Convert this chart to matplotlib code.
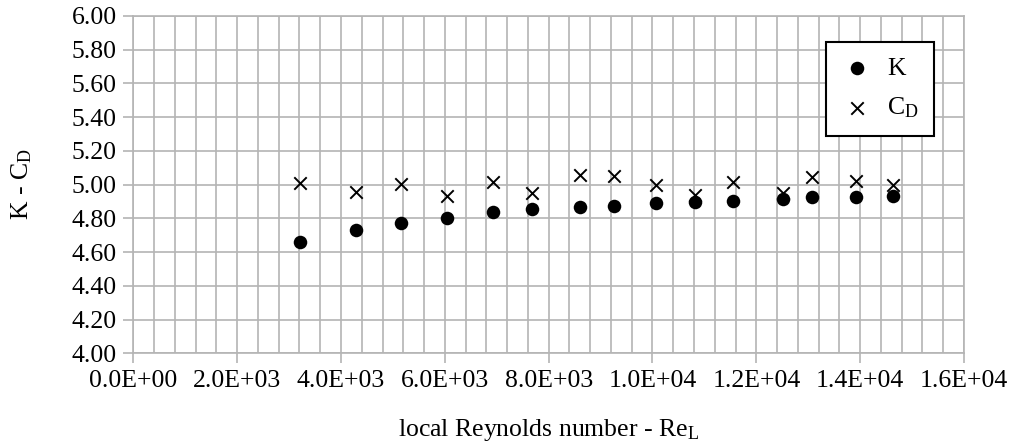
import matplotlib
matplotlib.use("Agg")
import matplotlib.pyplot as plt
from matplotlib.ticker import MultipleLocator, FuncFormatter

re_l = [3211, 4283, 5156, 6042, 6934, 7685, 8610, 9252, 10067, 10819, 11556, 12508, 13066, 13921, 14639]
k_vals = [4.662, 4.731, 4.774, 4.800, 4.836, 4.854, 4.869, 4.872, 4.893, 4.899, 4.903, 4.913, 4.925, 4.929, 4.933]
cd_vals = [5.008, 4.958, 5.002, 4.933, 5.018, 4.949, 5.057, 5.051, 4.998, 4.939, 5.018, 4.952, 5.044, 5.024, 4.998]

plt.rcParams['font.family'] = ['Liberation Serif', 'DejaVu Serif']
plt.rcParams['mathtext.fontset'] = 'custom'
plt.rcParams['mathtext.rm'] = 'Liberation Serif'
plt.rcParams['mathtext.it'] = 'Liberation Serif'

FS = 18.5
fig = plt.figure(figsize=(10.12, 4.45), dpi=100)
ax = fig.add_axes([133.3/1012, 1-353.3/445, (964-133.3)/1012, (353.3-16)/445])

gc = '#b4b4b4'
ax.scatter(re_l, k_vals, s=95, marker='o', color='black', linewidths=0, zorder=3, label='K')
ax.scatter(re_l, cd_vals, s=80, marker='x', color='black', linewidths=1.4, zorder=3, label=r'C$_\mathrm{D}$')

ax.set_xlim(0, 16000)
ax.set_ylim(4.0, 6.0)
ax.xaxis.set_major_locator(MultipleLocator(2000))
ax.xaxis.set_minor_locator(MultipleLocator(400))
ax.yaxis.set_major_locator(MultipleLocator(0.2))

def sci(v, p):
    s = '%.1E' % v
    mant, ex = s.split('E')
    sign = ex[0]
    return '%sE%s%02d' % (mant, sign, abs(int(ex)))
ax.xaxis.set_major_formatter(FuncFormatter(sci))
ax.yaxis.set_major_formatter(FuncFormatter(lambda v, p: '%.2f' % v))

ax.grid(True, which='both', axis='x', color=gc, linewidth=1.2)
ax.grid(True, which='major', axis='y', color=gc, linewidth=1.2)
ax.set_axisbelow(True)
for s in ax.spines.values():
    s.set_color(gc)
    s.set_linewidth(1.2)
ax.tick_params(which='major', direction='out', length=7, width=1.2, color=gc, labelsize=FS, pad=5)
ax.tick_params(which='minor', length=0)

ax.set_xlabel(r'local Reynolds number - Re$_\mathrm{L}$', fontsize=FS, labelpad=18)
ax.set_ylabel(r'K - C$_\mathrm{D}$', fontsize=FS, labelpad=27)

leg = ax.legend(loc='upper left', bbox_to_anchor=((825.7-133.3)/(964-133.3), 1-(41.7-16)/(353.3-16)),
                frameon=True, fancybox=False, fontsize=FS, borderpad=0.6, handletextpad=0.6,
                labelspacing=0.6, handlelength=1.2, borderaxespad=0)
leg.get_frame().set_edgecolor('black')
leg.get_frame().set_linewidth(1.5)
leg.get_frame().set_alpha(1)

fig.savefig('out.png', dpi=100)
